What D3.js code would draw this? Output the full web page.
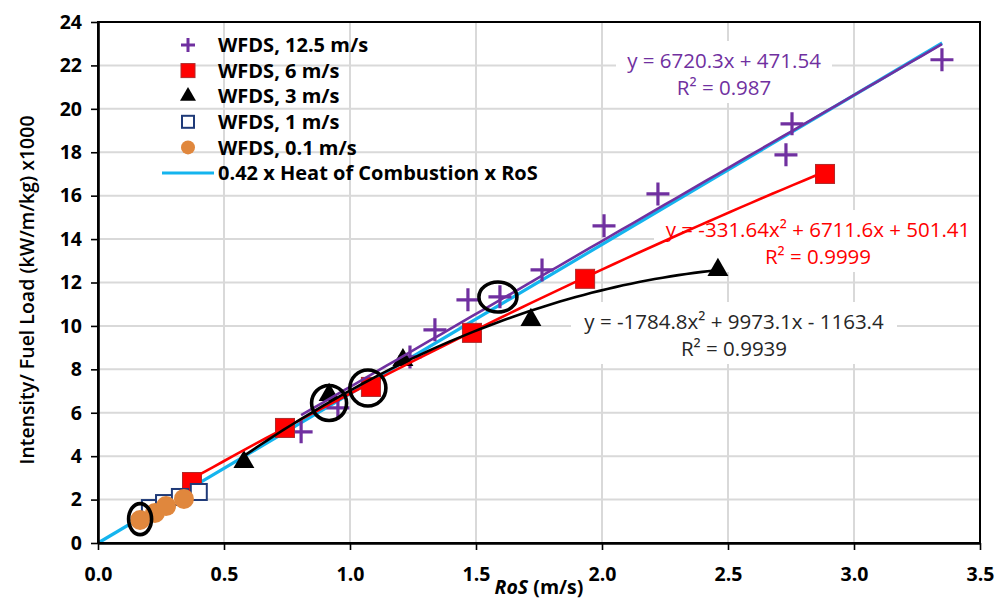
<!DOCTYPE html>
<html>
<head>
<meta charset="utf-8">
<script src="https://cdn.jsdelivr.net/npm/d3@7"></script>
<style>
  body { margin: 0; background: #fff; }
  svg { display: block; font-family: "Open Sans", "Noto Sans", sans-serif; }
</style>
</head>
<body>
<svg id="chart" width="998" height="601"></svg>
<script>
// Rate of spread (m/s) and intensity / fuel load (kW/m/kg, x1000) per WFDS wind speed
const ros125 = [0.806, 0.952, 1.238, 1.337, 1.468, 1.595, 1.762, 2.008, 2.222, 2.730, 2.754, 3.349];
const int125 = [5.12, 6.22, 8.57, 9.82, 11.20, 11.34, 12.58, 14.61, 16.08, 17.88, 19.31, 22.26];
const ros6 = [0.373, 0.742, 1.083, 1.484, 1.933, 2.885];
const int6 = [2.81, 5.30, 7.19, 9.68, 12.17, 17.00];
const ros3 = [0.579, 0.917, 1.210, 1.718, 2.460];
const int3 = [3.73, 6.82, 8.43, 10.28, 12.58];
const ros1 = [0.206, 0.262, 0.325, 0.400];
const int1 = [1.61, 1.84, 2.12, 2.35];
const ros01 = [0.167, 0.226, 0.270, 0.341];
const int01 = [1.06, 1.38, 1.70, 2.03];

// Trendline coefficients [x², x, const] (raw units) and R²
const fit125 = [0, 6720.3, 471.54];
const fit6 = [-331.64, 6711.6, 501.41];
const fit3 = [-1784.8, 9973.1, -1163.4];
const r2 = [0.987, 0.9999, 0.9939];

// Reference line: 0.42 x heat of combustion (kJ/kg) x RoS
const combustionFraction = 0.42;
const heatOfCombustion = 16370;
const refRosRange = [0, 3.35];

// Highlighted runs (RoS, intensity x1000)
const highlightRos = [0.167, 0.917, 1.071, 1.587];
const highlightInt = [1.10, 6.45, 7.14, 11.33];

const legendLabels = ["WFDS, 12.5 m/s", "WFDS, 6 m/s", "WFDS, 3 m/s", "WFDS, 1 m/s", "WFDS, 0.1 m/s",
  "0.42 x Heat of Combustion x RoS"];
const xTicks = [0, 0.5, 1.0, 1.5, 2.0, 2.5, 3.0, 3.5];
const yTicks = [0, 2, 4, 6, 8, 10, 12, 14, 16, 18, 20, 22, 24];

const svg = d3.select("#chart");
const W = 998, H = 601;
const m = { left: 98, right: 18, top: 22, bottom: 58 };
const x = d3.scaleLinear().domain([0, 3.5]).range([m.left, W - m.right]);
const y = d3.scaleLinear().domain([0, 24]).range([H - m.bottom, m.top]);

const C = { purple: "#7030A0", red: "#FF0000", black: "#000", navy: "#1F3A78", orange: "#E0873D", cyan: "#14B4EE", grid: "#D9D9D9" };

// layers, bottom to top
const gGrid = svg.append("g");
const gLabelBg = svg.append("g");
const gRef = svg.append("g");
const gMarks = svg.append("g");
const gTrend = svg.append("g");
const gLabelText = svg.append("g");
const gRings = svg.append("g");
const gAxes = svg.append("g");
const gLegend = svg.append("g");

// gridlines
gGrid.selectAll("line.gx").data(xTicks.slice(1, -1)).join("line").attr("class", "gx")
  .attr("x1", d => x(d)).attr("x2", d => x(d)).attr("y1", y(0)).attr("y2", y(24))
  .attr("stroke", C.grid).attr("stroke-width", 2);
gGrid.selectAll("line.gy").data(yTicks.slice(1, -1)).join("line").attr("class", "gy")
  .attr("x1", x(0)).attr("x2", x(3.5)).attr("y1", d => y(d)).attr("y2", d => y(d))
  .attr("stroke", C.grid).attr("stroke-width", 2);

// trendline equation text built from the coefficients
const abs = v => String(Math.abs(v));
function eqText(c) {
  const parts = [];
  if (c[0] !== 0) parts.push((c[0] < 0 ? "-" : "") + abs(c[0]) + "x²");
  const lin = abs(c[1]) + "x";
  parts.push(parts.length ? (c[1] < 0 ? " - " : " + ") + lin : (c[1] < 0 ? "-" : "") + lin);
  parts.push((c[2] < 0 ? " - " : " + ") + abs(c[2]));
  return "y = " + parts.join("");
}
const eqLabels = [
  { c: fit125, r: r2[0], cx: 724, cy: 61, color: C.purple, w: 200 },
  { c: fit6, r: r2[1], cx: 818, cy: 230, color: C.red, w: 312 },
  { c: fit3, r: r2[2], cx: 734, cy: 322, color: "#262626", w: 310 }
];
eqLabels.forEach(L => {
  gLabelBg.append("rect").attr("x", L.cx - L.w / 2 - 8).attr("y", L.cy - 20)
    .attr("width", L.w + 16).attr("height", 62).attr("fill", "#fff");
  gLabelText.append("text").attr("x", L.cx).attr("y", L.cy).attr("dy", "0.36em").attr("text-anchor", "middle")
    .attr("font-size", 20.5).attr("fill", L.color).text(eqText(L.c));
  gLabelText.append("text").attr("x", L.cx).attr("y", L.cy + 27).attr("dy", "0.36em").attr("text-anchor", "middle")
    .attr("font-size", 20.5).attr("fill", L.color).text("R² = " + L.r);
});

// reference line
const slope = combustionFraction * heatOfCombustion / 1000;
gRef.append("path")
  .attr("d", d3.line()(refRosRange.map(r => [x(r), y(slope * r)])))
  .attr("stroke", C.cyan).attr("stroke-width", 3.2).attr("fill", "none");

// markers
const zip = (a, b) => a.map((v, i) => [v, b[i]]);
const plus = (g, s, sw) => g.append("path")
  .attr("d", `M${-s},0H${s}M0,${-s}V${s}`).attr("stroke", C.purple).attr("stroke-width", sw).attr("fill", "none");

gMarks.append("g").selectAll("g").data(zip(ros125, int125)).join("g")
  .attr("transform", d => `translate(${x(d[0])},${y(d[1])})`)
  .each(function () { plus(d3.select(this), 11.5, 3.2); });

gMarks.append("g").selectAll("rect").data(zip(ros6, int6)).join("rect")
  .attr("x", d => x(d[0]) - 9.5).attr("y", d => y(d[1]) - 9.5).attr("width", 19).attr("height", 19)
  .attr("fill", C.red).attr("stroke", "#B02A2A").attr("stroke-width", 1);

const tri = d3.symbol().type(d3.symbolTriangle).size(190);
gMarks.append("g").selectAll("path").data(zip(ros3, int3)).join("path")
  .attr("d", tri).attr("transform", d => `translate(${x(d[0])},${y(d[1])})`).attr("fill", C.black);

gMarks.append("g").selectAll("rect").data(zip(ros1, int1)).join("rect")
  .attr("x", d => x(d[0]) - 8).attr("y", d => y(d[1]) - 8).attr("width", 16).attr("height", 16)
  .attr("fill", "#fff").attr("stroke", C.navy).attr("stroke-width", 2);

gMarks.append("g").selectAll("circle").data(zip(ros01, int01)).join("circle")
  .attr("cx", d => x(d[0])).attr("cy", d => y(d[1])).attr("r", 10).attr("fill", C.orange);

// trendlines over the range of each series
const poly = c => r => (c[0] * r * r + c[1] * r + c[2]) / 1000;
function trend(c, xs, color) {
  const f = poly(c);
  const [a, b] = d3.extent(xs);
  const pts = d3.range(0, 61).map(i => a + (b - a) * i / 60);
  gTrend.append("path").attr("d", d3.line()(pts.map(r => [x(r), y(f(r))])))
    .attr("stroke", color).attr("stroke-width", 2.6).attr("fill", "none");
}
trend(fit125, ros125, C.purple);
trend(fit6, ros6, C.red);
trend(fit3, ros3, C.black);

// highlight rings
const ringR = [[11.5, 15.5], [17.5, 17.5], [18, 18], [19, 15]];
gRings.selectAll("ellipse").data(zip(highlightRos, highlightInt)).join("ellipse")
  .attr("cx", d => x(d[0])).attr("cy", d => y(d[1]))
  .attr("rx", (d, i) => ringR[i][0]).attr("ry", (d, i) => ringR[i][1])
  .attr("fill", "none").attr("stroke", "#000").attr("stroke-width", 3.6);

// frame and axes
gAxes.append("rect").attr("x", x(0)).attr("y", y(24)).attr("width", x(3.5) - x(0)).attr("height", y(0) - y(24))
  .attr("fill", "none").attr("stroke", "#000").attr("stroke-width", 2);

const xAxis = gAxes.append("g").attr("transform", `translate(0,${y(0)})`)
  .call(d3.axisBottom(x).tickValues(xTicks).tickFormat(d3.format(".1f")).tickSizeInner(7).tickSizeOuter(0).tickPadding(17));
const yAxis = gAxes.append("g").attr("transform", `translate(${x(0)},0)`)
  .call(d3.axisLeft(y).tickValues(yTicks).tickFormat(d3.format("d")).tickSizeInner(7).tickSizeOuter(0).tickPadding(9));
[xAxis, yAxis].forEach(a => {
  a.select(".domain").attr("stroke", "#000").attr("stroke-width", 2.6);
  a.selectAll(".tick line").attr("stroke", "#000").attr("stroke-width", 1.6);
  a.selectAll(".tick text").attr("fill", "#000").attr("font-size", 19.5).attr("font-weight", "bold")
    .attr("font-family", "'Open Sans', 'Noto Sans', sans-serif");
});

// axis titles
const xt = gAxes.append("text").attr("x", (x(0) + x(3.5)) / 2).attr("y", 594).attr("text-anchor", "middle")
  .attr("font-size", 19.5).attr("font-weight", "bold");
xt.append("tspan").attr("font-style", "italic").text("RoS");
xt.append("tspan").text(" (m/s)");
gAxes.append("text").attr("transform", `translate(27,290) rotate(-90)`)
  .attr("text-anchor", "middle").attr("dy", "0.35em").attr("font-size", 19.5).attr("font-weight", 600)
  .text("Intensity/ Fuel Load (kW/m/kg) x1000");

// legend
const rowY = i => 45 + i * 25.6;
plus(gLegend.append("g").attr("transform", `translate(188,${rowY(0)})`), 7, 3);
gLegend.append("rect").attr("x", 181).attr("y", rowY(1) - 7).attr("width", 14).attr("height", 14)
  .attr("fill", C.red).attr("stroke", "#B02A2A").attr("stroke-width", 1);
gLegend.append("path").attr("d", d3.symbol().type(d3.symbolTriangle).size(110))
  .attr("transform", `translate(188,${rowY(2)})`).attr("fill", "#000");
gLegend.append("rect").attr("x", 182).attr("y", rowY(3) - 6).attr("width", 12).attr("height", 12)
  .attr("fill", "#fff").attr("stroke", C.navy).attr("stroke-width", 2);
gLegend.append("circle").attr("cx", 188).attr("cy", rowY(4)).attr("r", 7).attr("fill", C.orange);
gLegend.append("line").attr("x1", 162).attr("x2", 214).attr("y1", rowY(5)).attr("y2", rowY(5))
  .attr("stroke", C.cyan).attr("stroke-width", 3.2);
gLegend.selectAll("text").data(legendLabels).join("text")
  .attr("x", 218).attr("y", (d, i) => rowY(i)).attr("dy", "0.36em")
  .attr("font-size", 20).attr("font-weight", "bold").text(d => d);
</script>
</body>
</html>
